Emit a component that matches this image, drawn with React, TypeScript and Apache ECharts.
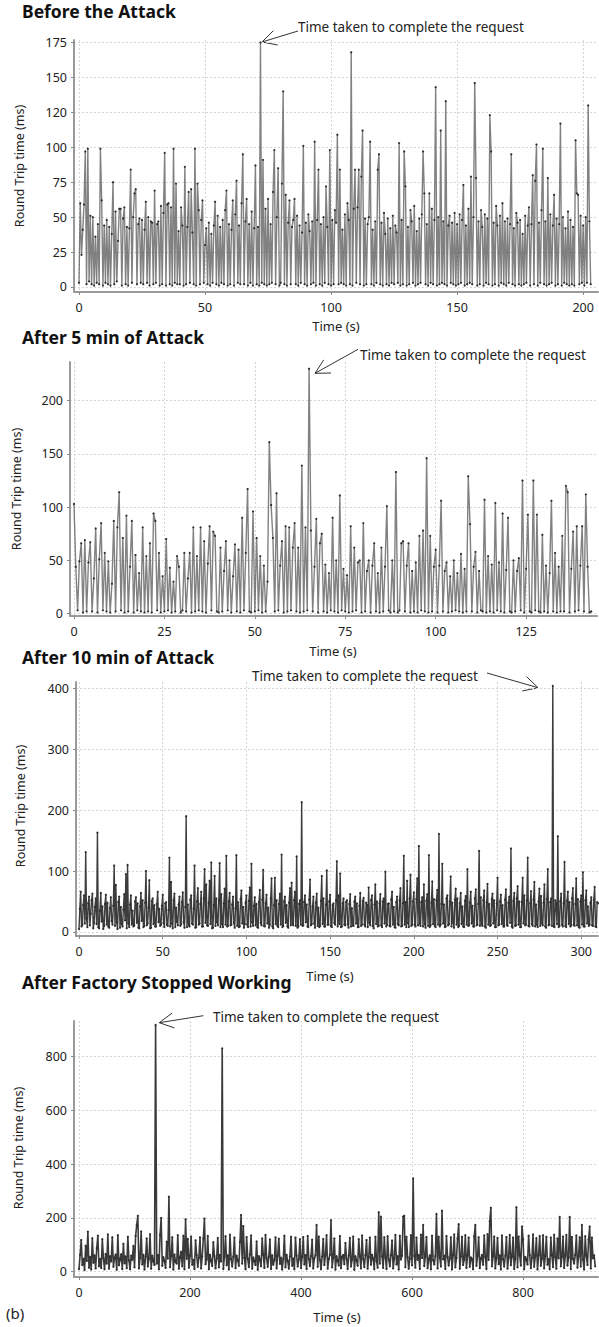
import React, { useEffect, useRef } from "react";
import * as echarts from "echarts";

// ---------- data ----------
const titles = ["Before the Attack", "After 5 min of Attack", "After 10 min of Attack", "After Factory Stopped Working"];
const annotationText = "Time taken to complete the request";
const yAxisName = "Round Trip time (ms)";
const xAxisName = "Time (s)";

// sampling step (s) of each record
const stepBefore = 0.5;
const stepAfter5 = 0.5;
const stepAfter10 = 0.5;
const stepStopped = 2;

// Round trip time (ms)
const rttBefore = [
  3, 60, 23, 41, 59, 97, 2, 99, 4, 51,
  2, 50, 1, 36, 3, 45, 2, 99, 62, 1,
  44, 3, 48, 2, 43, 1, 38, 75, 2, 54,
  4, 33, 56, 56, 1, 49, 57, 2, 43, 1,
  42, 84, 3, 50, 67, 70, 2, 45, 49, 3,
  48, 2, 41, 61, 3, 50, 1, 47, 46, 2,
  69, 3, 45, 47, 1, 58, 2, 53, 96, 1,
  59, 60, 2, 57, 1, 99, 3, 74, 2, 40,
  2, 57, 44, 1, 86, 2, 43, 68, 3, 70,
  39, 2, 99, 1, 74, 55, 2, 48, 62, 3,
  30, 42, 2, 46, 1, 38, 3, 44, 61, 2,
  51, 1, 43, 3, 48, 2, 55, 69, 1, 45,
  2, 41, 62, 1, 52, 76, 3, 44, 2, 60,
  95, 2, 47, 63, 1, 45, 3, 54, 1, 42,
  87, 2, 43, 1, 175, 3, 91, 2, 56, 1,
  63, 2, 45, 3, 68, 98, 2, 50, 85, 1,
  3, 74, 140, 2, 66, 1, 46, 62, 2, 43,
  48, 63, 2, 51, 1, 44, 3, 39, 101, 2,
  46, 1, 52, 40, 2, 47, 3, 104, 1, 48,
  84, 2, 45, 1, 50, 3, 72, 43, 2, 98,
  1, 48, 2, 55, 46, 109, 2, 84, 3, 41,
  2, 52, 1, 60, 48, 2, 168, 1, 56, 84,
  3, 57, 84, 2, 79, 112, 1, 49, 2, 45,
  50, 104, 2, 41, 1, 47, 3, 84, 95, 2,
  46, 1, 53, 38, 2, 49, 1, 42, 3, 51,
  2, 44, 39, 3, 103, 1, 48, 2, 97, 72,
  1, 43, 2, 55, 47, 3, 58, 1, 40, 2,
  49, 3, 52, 97, 67, 2, 45, 1, 67, 3,
  56, 2, 48, 143, 1, 50, 2, 112, 3, 47,
  2, 133, 1, 44, 51, 3, 46, 2, 53, 1,
  45, 2, 52, 3, 48, 73, 1, 44, 2, 56,
  3, 79, 2, 50, 146, 78, 1, 47, 2, 55,
  43, 1, 52, 3, 49, 2, 123, 97, 1, 46,
  2, 58, 44, 1, 51, 3, 60, 2, 47, 1,
  49, 3, 45, 95, 2, 42, 1, 53, 46, 2,
  48, 1, 38, 2, 51, 3, 44, 57, 1, 45,
  80, 2, 76, 102, 1, 46, 3, 55, 99, 2,
  47, 1, 78, 2, 52, 3, 44, 66, 1, 49,
  2, 45, 117, 1, 50, 3, 42, 2, 54, 1,
  48, 2, 43, 1, 105, 67, 66, 2, 51, 3,
  44, 1, 50, 3, 130, 47, 2,
];

const rttAfter5 = [
  103, 44, 3, 49, 66, 1, 69, 2, 48, 67,
  2, 33, 80, 1, 51, 85, 3, 57, 2, 49,
  1, 28, 87, 2, 81, 114, 3, 71, 1, 92,
  2, 44, 87, 1, 55, 3, 38, 2, 81, 1,
  54, 2, 66, 1, 94, 87, 3, 57, 1, 35,
  2, 70, 3, 43, 1, 30, 2, 54, 44, 1,
  3, 57, 2, 33, 57, 1, 81, 2, 54, 3,
  81, 2, 68, 1, 47, 82, 3, 77, 73, 2,
  1, 62, 2, 40, 68, 3, 50, 1, 35, 65,
  2, 60, 1, 90, 3, 57, 117, 2, 1, 96,
  2, 71, 3, 54, 1, 45, 2, 30, 161, 102,
  71, 2, 113, 3, 45, 68, 1, 82, 2, 81,
  3, 62, 85, 2, 62, 1, 139, 2, 81, 3,
  230, 78, 2, 44, 89, 1, 66, 75, 2, 46,
  1, 38, 3, 90, 2, 50, 1, 111, 3, 42,
  2, 36, 1, 82, 2, 62, 3, 48, 50, 1,
  85, 2, 40, 50, 1, 45, 66, 2, 38, 1,
  62, 2, 44, 101, 3, 1, 50, 2, 133, 1,
  3, 66, 68, 2, 45, 66, 1, 40, 2, 48,
  1, 73, 3, 78, 2, 146, 1, 73, 2, 44,
  60, 1, 45, 106, 2, 40, 48, 1, 35, 2,
  50, 3, 38, 2, 56, 1, 42, 2, 129, 84,
  2, 44, 58, 1, 40, 3, 2, 107, 1, 54,
  2, 46, 1, 104, 3, 48, 2, 94, 1, 41,
  90, 2, 1, 50, 2, 40, 52, 3, 125, 1,
  42, 93, 2, 1, 125, 3, 93, 2, 1, 74,
  2, 45, 1, 38, 106, 2, 57, 1, 44, 2,
  73, 2, 120, 114, 1, 42, 77, 2, 82, 3,
  45, 82, 2, 112, 44, 1, 2,
];

const rttAfter10 = [
  5, 38, 66, 9, 12, 44, 60, 14, 131, 22, 8, 47, 58, 11, 30, 52, 63, 6, 15, 41,
  55, 13, 163, 8, 6, 35, 64, 17, 42, 5, 10, 46, 61, 12, 48, 9, 7, 39, 57, 18,
  12, 43, 109, 10, 77, 16, 5, 49, 58, 7, 41, 13, 9, 37, 62, 19, 95, 6, 110, 14,
  8, 45, 60, 12, 35, 9, 11, 50, 57, 15, 47, 7, 6, 42, 64, 18, 52, 8, 10, 48,
  100, 11, 14, 40, 85, 6, 7, 51, 55, 13, 44, 9, 9, 46, 66, 16, 38, 10, 12, 43,
  61, 15, 8, 47, 49, 12, 10, 36, 122, 9, 82, 14, 6, 52, 63, 8, 40, 17, 11, 45,
  58, 10, 13, 49, 65, 16, 7, 41, 190, 8, 45, 12, 9, 53, 60, 14, 12, 38, 109, 7,
  8, 50, 72, 12, 14, 46, 66, 9, 9, 55, 103, 15, 78, 11, 10, 48, 84, 13, 114, 6,
  7, 44, 92, 10, 55, 16, 11, 52, 113, 8, 62, 13, 8, 47, 71, 12, 125, 9, 10, 50,
  64, 11, 12, 45, 58, 15, 7, 39, 126, 10, 49, 8, 9, 54, 68, 14, 41, 7, 13, 48,
  60, 12, 8, 51, 73, 9, 112, 16, 10, 43, 57, 11, 46, 8, 7, 49, 69, 15, 11, 53,
  102, 10, 9, 47, 61, 14, 40, 7, 12, 55, 88, 9, 6, 44, 89, 13, 52, 10, 8, 46,
  63, 12, 127, 8, 10, 50, 58, 15, 44, 9, 7, 48, 72, 11, 81, 14, 11, 52, 66, 10,
  124, 7, 9, 46, 52, 12, 213, 10, 11, 49, 60, 16, 45, 9, 8, 53, 86, 11, 13, 42,
  58, 14, 7, 48, 63, 10, 40, 8, 10, 51, 92, 13, 55, 9, 9, 45, 101, 12, 12, 50,
  61, 10, 8, 44, 47, 15, 12, 52, 116, 9, 60, 13, 96, 8, 9, 47, 55, 12, 11, 49,
  52, 13, 7, 46, 62, 9, 39, 11, 10, 50, 58, 14, 47, 8, 8, 43, 64, 10, 12, 51,
  56, 12, 9, 48, 44, 8, 73, 15, 11, 52, 60, 10, 6, 45, 78, 13, 50, 9, 10, 47,
  62, 11, 8, 50, 55, 14, 99, 9, 12, 46, 47, 10, 9, 53, 66, 12, 41, 8, 7, 49,
  58, 13, 11, 52, 72, 9, 10, 47, 125, 12, 49, 8, 84, 15, 8, 55, 94, 10, 12, 50,
  65, 12, 9, 54, 88, 11, 141, 14, 10, 49, 57, 9, 78, 13, 7, 51, 62, 10, 126, 8,
  11, 48, 83, 13, 54, 10, 8, 52, 69, 12, 161, 9, 12, 46, 112, 14, 45, 8, 9, 55,
  60, 11, 13, 50, 91, 9, 48, 15, 7, 53, 71, 12, 55, 8, 10, 47, 64, 13, 42, 9,
  8, 51, 59, 12, 103, 10, 11, 48, 66, 14, 43, 9, 9, 55, 70, 11, 12, 46, 133, 10,
  57, 13, 10, 52, 68, 9, 7, 49, 79, 12, 46, 10, 11, 54, 63, 14, 52, 8, 8, 47,
  89, 11, 12, 50, 61, 13, 44, 9, 9, 53, 70, 12, 10, 48, 58, 15, 137, 9, 7, 51,
  64, 10, 11, 55, 75, 12, 50, 8, 8, 49, 89, 14, 60, 11, 12, 52, 122, 10, 9, 47,
  67, 13, 10, 53, 82, 9, 45, 12, 8, 50, 71, 10, 59, 14, 11, 48, 78, 9, 7, 54,
  103, 11, 12, 49, 55, 10, 404, 9, 8, 52, 46, 13, 157, 8, 10, 50, 63, 12, 9, 47,
  115, 10, 8, 51, 66, 13, 49, 9, 11, 55, 72, 12, 10, 46, 88, 11, 54, 8, 7, 50,
  60, 12, 98, 9, 9, 52, 68, 14, 42, 10, 12, 48, 57, 11, 10, 53, 74, 9, 8, 49,
  47,
];

const rttStopped = [
  10, 62, 118, 25, 48, 6, 97, 40, 149, 15,
  55, 8, 125, 33, 61, 12, 88, 134, 20, 47,
  14, 121, 50, 9, 66, 30, 139, 11, 58, 38,
  128, 18, 52, 64, 7, 136, 24, 45, 65, 10,
  104, 31, 57, 13, 130, 42, 9, 60, 44, 96,
  16, 133, 174, 208, 12, 51, 150, 27, 63, 8,
  56, 124, 19, 48, 140, 11, 60, 39, 25, 918,
  30, 62, 9, 137, 200, 22, 54, 41, 14, 112,
  49, 279, 17, 58, 128, 8, 64, 36, 30, 136,
  11, 53, 74, 20, 134, 9, 195, 48, 122, 15,
  59, 131, 26, 44, 10, 117, 61, 18, 52, 128,
  12, 57, 124, 198, 28, 46, 133, 9, 63, 40,
  21, 110, 58, 12, 49, 126, 16, 62, 38, 831,
  10, 56, 132, 24, 61, 8, 138, 47, 19, 55,
  127, 13, 60, 42, 22, 110, 211, 30, 170, 51,
  9, 129, 48, 17, 64, 135, 11, 53, 40, 25,
  113, 7, 58, 45, 20, 124, 62, 14, 137, 50,
  18, 56, 120, 10, 61, 26, 43, 128, 12, 59,
  123, 29, 52, 8, 47, 134, 16, 63, 40, 11,
  57, 130, 22, 49, 9, 127, 60, 19, 46, 121,
  14, 55, 129, 27, 62, 10, 133, 48, 21, 58,
  119, 12, 50, 61, 174, 18, 131, 44, 9, 56,
  122, 25, 60, 136, 11, 47, 63, 192, 16, 52,
  124, 8, 58, 41, 23, 133, 13, 55, 62, 28,
  107, 49, 10, 60, 126, 19, 45, 131, 7, 58,
  42, 22, 121, 56, 12, 135, 47, 17, 61, 118,
  11, 54, 127, 26, 63, 48, 9, 130, 40, 15,
  221, 30, 205, 57, 14, 128, 52, 10, 132, 46,
  20, 61, 116, 12, 49, 137, 27, 58, 8, 134,
  45, 60, 205, 208, 17, 130, 54, 11, 48, 136,
  24, 347, 59, 15, 127, 44, 62, 10, 138, 51,
  174, 21, 56, 129, 13, 48, 61, 9, 134, 43,
  27, 58, 215, 12, 130, 52, 19, 227, 46, 60,
  10, 133, 55, 23, 49, 128, 8, 62, 139, 16,
  51, 124, 177, 11, 57, 130, 25, 45, 136, 14,
  60, 127, 18, 53, 47, 9, 132, 174, 22, 58,
  128, 13, 49, 62, 26, 135, 55, 10, 140, 44,
  188, 238, 20, 58, 131, 12, 50, 126, 28, 61,
  8, 135, 47, 19, 59, 129, 11, 53, 137, 24,
  56, 127, 10, 48, 240, 16, 131, 60, 23, 168,
  120, 9, 55, 46, 27, 134, 61, 13, 52, 139,
  18, 57, 125, 8, 62, 133, 22, 49, 136, 12,
  58, 130, 26, 47, 9, 127, 61, 17, 138, 54,
  11, 124, 50, 204, 20, 56, 131, 14, 60, 137,
  23, 53, 204, 10, 129, 48, 30, 62, 135, 15,
  57, 128, 19, 174, 45, 8, 132, 59, 25, 120,
  168, 12, 127, 50, 61, 20,
];

// tick values and labels
const xTicksBefore = [0, 50, 100, 150, 200];
const yTicksBefore = [0, 25, 50, 75, 100, 125, 150, 175];
const yTickLabelsBefore = ["0", "25", "50", "75", "100", "120", "150", "175"];
const xTicksAfter5 = [0, 25, 50, 75, 100, 125];
const yTicksAfter5 = [0, 50, 100, 150, 200];
const xTicksAfter10 = [0, 50, 100, 150, 200, 250, 300];
const yTicksAfter10 = [0, 100, 200, 300, 400];
const xTicksStopped = [0, 200, 400, 600, 800];
const yTicksStopped = [0, 200, 400, 600, 800];

// ---------- layout ----------
const FONT = '"Noto Sans", "DejaVu Sans", sans-serif';

const panels = [
  {
    data: rttBefore, step: stepBefore, xTicks: xTicksBefore, yTicks: yTicksBefore, yLabels: yTickLabelsBefore,
    grid: { left: 74, top: 40, width: 524, height: 252 },
    x: [-1.98, 205.9], y: [-3.58, 176.8],
    line: { color: "rgba(75,75,75,0.7)", width: 1.4 },
    titleY: 14, yNamePos: [19.5, 166], xNamePos: [336, 326],
    note: [298, 27], shaft: [[262, 42], [298, 31]], head: [[273.3, 30.7], [262, 42], [277.7, 45]],
  },
  {
    data: rttAfter5, step: stepAfter5, xTicks: xTicksAfter5, yTicks: yTicksAfter5, yLabels: null,
    grid: { left: 70, top: 362, width: 527, height: 254 },
    x: [-1.1, 144.6], y: [-2.3, 236.4],
    line: { color: "rgba(75,75,75,0.7)", width: 1.4 },
    titleY: 339.5, yNamePos: [16.5, 489], xNamePos: [333, 651],
    note: [360, 355], shaft: [[315, 373.3], [358, 349.3]], head: [[323.7, 359.9], [315, 373.3], [331, 373]],
  },
  {
    data: rttAfter10, step: stepAfter10, xTicks: xTicksAfter10, yTicks: yTicksAfter10, yLabels: null,
    grid: { left: 76, top: 682, width: 522, height: 254 },
    x: [-1.8, 310], y: [-6.6, 410.3],
    line: { color: "#3c3c3c", width: 1.4 },
    titleY: 660, yNamePos: [20, 806], xNamePos: [330, 976],
    note: [252, 676], shaft: [[487, 673], [538, 687.7]], head: [[526.5, 676.6], [538, 687.7], [522.3, 691]],
  },
  {
    data: rttStopped, step: stepStopped, xTicks: xTicksStopped, yTicks: yTicksStopped, yLabels: null,
    grid: { left: 74, top: 1021, width: 524, height: 256 },
    x: [-9, 935], y: [-19.7, 932.8],
    line: { color: "#3a3a3a", width: 1.6 },
    titleY: 985, yNamePos: [18.5, 1148], xNamePos: [337, 1317],
    note: [213, 1017], shaft: [[159.3, 1022.7], [203.3, 1015.7]], head: [[172.1, 1013.1], [159.3, 1022.7], [174.4, 1027.9]],
  },
];

function buildOption() {
  const grid: any[] = [];
  const xAxis: any[] = [];
  const yAxis: any[] = [];
  const series: any[] = [];
  const graphic: any[] = [];

  panels.forEach((p, i) => {
    grid.push({ ...p.grid, containLabel: false, outerBoundsMode: "none" });
    const axisLineStyle = { color: "#9a9a9a", width: 2 };
    const splitLine = { show: true, lineStyle: { color: "#d6d6d6", type: [2, 2], width: 1 } };
    xAxis.push({
      type: "value", gridIndex: i, min: p.x[0], max: p.x[1],
      axisLine: { show: true, onZero: false, lineStyle: axisLineStyle },
      axisTick: { show: true, customValues: p.xTicks, length: 3, lineStyle: { color: "#8a8a8a" } },
      axisLabel: { customValues: p.xTicks, margin: 9, color: "#222", fontSize: 12.5, fontFamily: FONT, formatter: (v: number) => String(v) },
      splitLine,
    });
    yAxis.push({
      type: "value", gridIndex: i, min: p.y[0], max: p.y[1],
      axisLine: { show: true, onZero: false, lineStyle: axisLineStyle },
      axisTick: { show: true, customValues: p.yTicks, length: 3, lineStyle: { color: "#8a8a8a" } },
      axisLabel: {
        customValues: p.yTicks, margin: 7, color: "#222", fontSize: 12.5, fontFamily: FONT,
        formatter: (v: number) => {
          const k = p.yTicks.indexOf(v);
          return p.yLabels && k >= 0 ? p.yLabels[k] : String(v);
        },
      },
      splitLine,
    });
    series.push({
      type: "line", xAxisIndex: i, yAxisIndex: i,
      data: p.data.map((v, k) => [k * p.step, v]),
      showSymbol: true, showAllSymbol: true, symbol: "circle", symbolSize: 2.2,
      itemStyle: { color: "#2e2e2e" },
      lineStyle: p.line,
      silent: true,
    });

    graphic.push({
      type: "text", left: 22, top: p.titleY - 12,
      style: { text: titles[i], font: `bold 17.5px ${FONT}`, fill: "#111" },
    });
    graphic.push({
      type: "text", x: p.yNamePos[0], y: p.yNamePos[1], rotation: Math.PI / 2,
      style: { text: yAxisName, font: `12.5px ${FONT}`, fill: "#222", align: "center", verticalAlign: "middle", textAlign: "center", textVerticalAlign: "middle" },
    });
    graphic.push({
      type: "text", x: p.xNamePos[0], y: p.xNamePos[1],
      style: { text: xAxisName, font: `13px ${FONT}`, fill: "#222", align: "center", verticalAlign: "middle", textAlign: "center", textVerticalAlign: "middle" },
    });
    graphic.push({
      type: "text", x: p.note[0], y: p.note[1],
      style: { text: annotationText, font: `13.5px ${FONT}`, fill: "#222", align: "left", verticalAlign: "middle", textAlign: "left", textVerticalAlign: "middle" },
    });
    graphic.push({
      type: "line",
      shape: { x1: p.shaft[0][0], y1: p.shaft[0][1], x2: p.shaft[1][0], y2: p.shaft[1][1] },
      style: { stroke: "#333", lineWidth: 1 },
    });
    graphic.push({
      type: "polyline", shape: { points: p.head },
      style: { stroke: "#333", lineWidth: 1, fill: null },
    });
  });

  graphic.push({
    type: "text", x: 6, y: 1313,
    style: { text: "(b)", font: `15px ${FONT}`, fill: "#222", align: "left", verticalAlign: "middle", textAlign: "left", textVerticalAlign: "middle" },
  });

  return { animation: false, backgroundColor: "#fff", grid, xAxis, yAxis, series, graphic };
}

export default function App() {
  const ref = useRef<HTMLDivElement>(null);
  useEffect(() => {
    if (!ref.current) return;
    const chart = echarts.init(ref.current, null, { renderer: "svg" });
    chart.setOption(buildOption() as any);
    return () => chart.dispose();
  }, []);
  return (
    <div
      ref={ref}
      style={{ position: "absolute", left: 0, top: 0, width: 599, height: 1327, background: "#fff" }}
    />
  );
}
